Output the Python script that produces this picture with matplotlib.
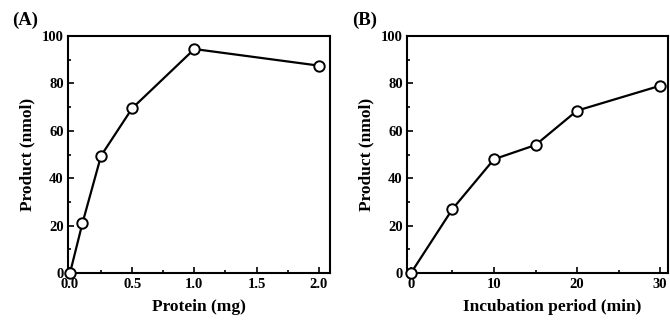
import matplotlib
matplotlib.use("Agg")
import matplotlib.pyplot as plt
from matplotlib.ticker import MultipleLocator, FormatStrFormatter

# Panel A: product vs protein amount
protein_mg = [0.0, 0.1, 0.25, 0.5, 1.0, 2.0]
product_a = [0, 21, 49.5, 69.5, 94.5, 87.5]

# Panel B: product vs incubation period
incubation_min = [0, 5, 10, 15, 20, 30]
product_b = [0, 27, 48, 54, 68.5, 79]

plt.rcParams["font.family"] = ["Liberation Serif", "DejaVu Serif"]
plt.rcParams["font.weight"] = "bold"

fig = plt.figure(figsize=(6.7, 3.2), dpi=100)
W, H = 670, 320


def add_axes(left, right, top, bottom):
    return fig.add_axes([left / W, 1 - bottom / H, (right - left) / W, (bottom - top) / H])


ax_a = add_axes(68, 330, 36, 273)
ax_b = add_axes(407, 668, 36, 273)

panels = [
    (ax_a, protein_mg, product_a, "Protein (mg)", 0.5, (-0.016, 2.09), 0.5, 0.25, "%.1f", "(A)", 12),
    (ax_b, incubation_min, product_b, "Incubation period (min)", 0.557, (-0.48, 30.96), 10, 5, "%d", "(B)", 352),
]

for ax, x, y, xlabel, label_x, xlim, major, minor, fmt, tag, tag_x in panels:
    ax.plot(x, y, color="black", linewidth=1.6, marker="o", markersize=7.5,
            markerfacecolor="white", markeredgecolor="black", markeredgewidth=1.4,
            clip_on=False, zorder=3)
    ax.set_xlim(*xlim)
    ax.set_ylim(0, 100)
    ax.xaxis.set_major_locator(MultipleLocator(major))
    ax.xaxis.set_minor_locator(MultipleLocator(minor))
    ax.yaxis.set_major_locator(MultipleLocator(20))
    ax.yaxis.set_minor_locator(MultipleLocator(10))
    ax.xaxis.set_major_formatter(FormatStrFormatter(fmt))
    ax.tick_params(which="both", direction="in", width=1.2, labelsize=10.5)
    ax.tick_params(axis="x", pad=3.5)
    ax.tick_params(axis="y", pad=3)
    ax.tick_params(which="major", length=4)
    ax.tick_params(which="minor", length=2.5)
    for s in ax.spines.values():
        s.set_linewidth(1.5)
    ax.set_xlabel(xlabel, fontsize=12.5, fontweight="bold", labelpad=6, x=label_x)
    ax.set_ylabel("Product (nmol)", fontsize=12.5, fontweight="bold", labelpad=5)
    fig.text(tag_x / W, 1 - 20 / H, tag, fontsize=13.5, fontweight="bold",
             ha="left", va="center")

fig.savefig("out.png", dpi=100)
